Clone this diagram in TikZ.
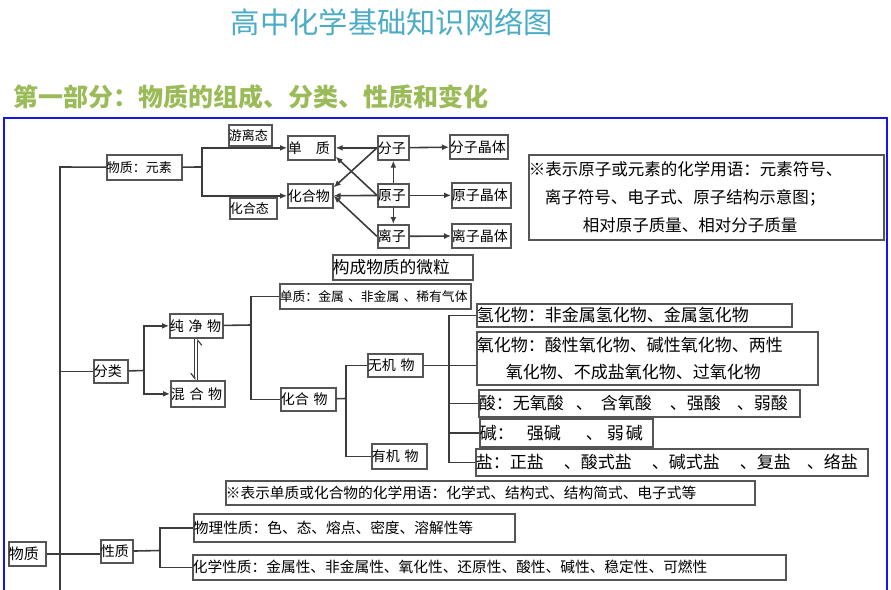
\documentclass[tikz,border=0pt]{standalone}
\usepackage{fontspec}
\setmainfont{Noto Sans CJK SC}
\usepackage{xcolor}
\usetikzlibrary{arrows.meta,positioning}
\definecolor{boxgray}{RGB}{85,85,85}
\definecolor{linegray}{RGB}{60,60,60}
\definecolor{titleblue}{RGB}{75,172,198}
\definecolor{partgreen}{RGB}{155,187,89}
\definecolor{frameblue}{RGB}{20,20,235}
\newcommand{\fsz}[1]{\fontsize{#1}{#1}\selectfont}

\begin{document}
\begin{tikzpicture}[x=1pt, y=-1pt,
	box/.style={draw=boxgray, line width=1.7pt, inner sep=0pt, anchor=north west, align=left, font=\fsz{14}},
	link/.style={draw=linegray, line width=1.6pt},
	arr/.style={link, -{Latex[length=7pt,width=6pt]}},
	barb/.style={draw=linegray, line width=1.2pt, -{Straight Barb[right,length=5pt,width=8pt]}}]
		\useasboundingbox (0,0) rectangle (891,589);

		\node[font=\fsz{29.3}, text=titleblue, inner sep=0pt] (title) at (392,22) {高中化学基础知识网络图};
		\node[font=\bfseries\fsz{25}, text=partgreen, anchor=west, inner sep=0pt] (part) at (13,97) {第一部分：物质的组成、分类、性质和变化};
		\draw[frameblue, line width=1.5pt] (4,595) -- (4,118) -- (887,118) -- (887,595);

		\node[box, text width=75pt, minimum height=25pt, font=\fsz{13}] (yuansu) at (106,154) {物质：元素};
		\node[box, text width=43pt, minimum height=21pt, font=\fsz{13}] (youli) at (228,124) {游离态};
		\node[box, text width=47pt, minimum height=21pt, font=\fsz{13}] (huahetai) at (229,197) {化合态};
		\node[box, text width=47pt, minimum height=24pt] (danzhi) at (287,135) {单　质};
		\node[box, text width=45pt, minimum height=24pt] (huahewu) at (287,183) {化合物};
		\node[box, text width=31pt, minimum height=24pt] (fenzi) at (377,135) {分子};
		\node[box, text width=31pt, minimum height=23pt] (yuanzi) at (377,183) {原子};
		\node[box, text width=31pt, minimum height=23pt] (lizi) at (377,224) {离子};
		\node[box, text width=58pt, minimum height=24pt] (fzjt) at (449,134) {分子晶体};
		\node[box, text width=59pt, minimum height=25pt] (yzjt) at (451,182) {原子晶体};
		\node[box, text width=59pt, minimum height=24pt] (lzjt) at (451,223) {离子晶体};
		\node[box, text width=355pt, minimum height=85pt, font=\fontsize{16.5}{28}\selectfont] (fuhao) at (528,154) {※表示原子或元素的化学用语：元素符号、\\\hspace*{16pt}离子符号、电子式、原子结构示意图；\\\hspace*{54pt}相对原子质量、相对分子质量};
		\node[box, text width=140pt, minimum height=25pt, font=\fsz{16.7}] (goucheng) at (332,254) {构成物质的微粒};

		\node[box, text width=191pt, minimum height=25pt, font=\fsz{12.8}] (dzjs) at (279,283) {单质：金属 、非金属 、稀有气体};
		\node[box, text width=53pt, minimum height=24pt] (chunjing) at (169,313) {纯 净 物};
		\node[box, text width=54pt, minimum height=26pt] (hunhe) at (170,380) {混 合 物};
		\node[box, text width=34pt, minimum height=23pt] (fenlei) at (93,359) {分类};
		\node[box, text width=55pt, minimum height=23pt] (huahewu2) at (280,387) {化合 物};
		\node[box, text width=55pt, minimum height=23pt] (wuji) at (367,353) {无机 物};
		\node[box, text width=55pt, minimum height=25pt] (youji) at (371,443) {有机 物};

		\node[box, text width=315pt, minimum height=23pt, font=\fsz{17}] (qinghua) at (476,303) {氢化物：非金属氢化物、金属氢化物};
		\node[box, text width=341pt, minimum height=53pt, font=\fontsize{17}{27}\selectfont] (yanghua) at (476,331) {氧化物：酸性氧化物、碱性氧化物、两性\\\hspace*{29pt}氧化物、不成盐氧化物、过氧化物};
		\node[box, text width=321pt, minimum height=27pt, font=\fsz{17}] (suan) at (478,389) {酸：无氧酸\hspace{12pt}、\hspace{8pt}含氧酸\hspace{18pt}、强酸\hspace{16pt}、弱酸};
		\node[box, text width=173pt, minimum height=28pt, font=\fsz{17}] (jian) at (479,418) {碱：\hspace{13pt}强碱\hspace{25pt}、\hspace{4pt}弱\hspace{2pt}碱};
		\node[box, text width=392pt, minimum height=27pt, font=\fsz{17}] (yan) at (475,448) {盐：正盐\hspace{20pt}、酸式盐\hspace{20pt}、碱式盐\hspace{20pt}、复盐\hspace{16pt}、络盐};

		\node[box, text width=529pt, minimum height=24pt, font=\fsz{14.7}] (yongyu) at (225,480) {※表示单质或化合物的化学用语：化学式、结构式、结构简式、电子式等};
		\node[box, text width=321pt, minimum height=28pt, font=\fsz{14.7}] (wuli) at (193,513) {物理性质：色、态、熔点、密度、溶解性等};
		\node[box, text width=593pt, minimum height=25pt, font=\fsz{14.7}] (huaxue) at (192,554) {化学性质：金属性、非金属性、氧化性、还原性、酸性、碱性、稳定性、可燃性};
		\node[box, text width=37pt, minimum height=24pt, font=\fsz{15}] (wuzhi) at (8,541) {物质};
		\node[box, text width=32pt, minimum height=23pt] (xingzhi) at (100,539) {性质};

		\coordinate (trunk) at (60,167);
		\coordinate (trunkend) at (60,595);
		\draw[link] (yuansu) -- (trunk) -- (trunkend);
		\draw[link] (fenlei) -- (fenlei -| trunk);
		\draw[link] (wuzhi.east) -- (wuzhi.east -| xingzhi.west);

		\coordinate (ys) at (202,167);
		\draw[link] (yuansu) -- (ys);
		\draw[arr] (ys) |- (danzhi);
		\draw[arr] (ys) |- (huahewu);

		\draw[arr] (fenzi) -- (danzhi);
		\draw[arr] (fenzi.west) -- (huahewu.20);
		\draw[arr] (yuanzi.west) -- (danzhi.-20);
		\draw[arr] (yuanzi) -- (huahewu);
		\draw[arr] (lizi.west) -- (huahewu.east);
		\draw[arr] (yuanzi) -- (fenzi);
		\draw[arr] (yuanzi) -- (lizi);
		\draw[arr] (fenzi) -- (fzjt);
		\draw[arr] (yuanzi) -- (yzjt);
		\draw[arr] (lizi) -- (lzjt);

		\coordinate (fl) at (144,370.5);
		\draw[link] (fenlei) -- (fl);
		\draw[arr] (fl) |- (chunjing);
		\draw[arr] (fl) |- (hunhe);
		\draw[barb] ([xshift=-1.5pt]chunjing.south) -- ([xshift=-1.5pt]chunjing.south |- hunhe.north);
		\draw[barb] ([xshift=1.5pt]chunjing.south |- hunhe.north) -- ([xshift=1.5pt]chunjing.south);

		\coordinate (cj) at (251,325);
		\draw[link] (chunjing) -- (cj);
		\draw[link] (cj) |- (dzjs);
		\draw[link] (cj) |- (huahewu2);

		\coordinate (hh) at (346,398.5);
		\draw[link] (huahewu2) -- (hh);
		\draw[link] (hh) |- (wuji);
		\draw[link] (hh) |- (youji);

		\coordinate (wj) at (449,364.5);
		\draw[link] (wuji) -- (wuji -| yanghua.west);
		\draw[link] (qinghua) -| (wj) |- (yan);
		\draw[link] (wj |- suan) -- (suan);
		\draw[link] (wj |- jian) -- (jian);

		\coordinate (xz) at (160,550.5);
		\draw[link] (xingzhi) -- (xz);
		\draw[link] (xz) |- (wuli);
		\draw[link] (xz) |- (huaxue);
	\end{tikzpicture}
\end{document}
